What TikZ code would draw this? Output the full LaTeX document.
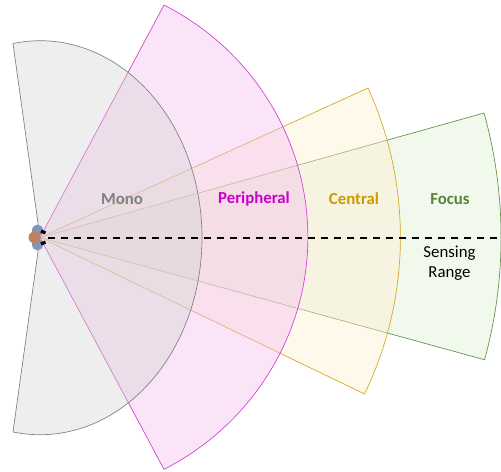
\documentclass[tikz,border=0pt]{standalone}
\usepackage{fontspec}
\setmainfont{Carlito}
\definecolor{monoc}{RGB}{128,128,128}
\definecolor{monof}{RGB}{212,212,212}
\definecolor{perc}{RGB}{204,0,204}
\definecolor{perl}{RGB}{212,60,212}
\definecolor{perf}{RGB}{243,188,238}
\definecolor{cenc}{RGB}{214,165,30}
\definecolor{cenf}{RGB}{255,240,205}
\definecolor{focc}{RGB}{100,145,70}
\definecolor{focf}{RGB}{220,237,208}
\definecolor{labc}{RGB}{204,153,0}
\definecolor{skin}{RGB}{190,130,95}
\definecolor{shoulder}{RGB}{130,150,185}
\tikzset{px/.style={x=0.75pt,y=-0.75pt},
 sector/.style={line width=0.5pt,line join=miter,fill opacity=0.4},
 lab/.style={font=\bfseries\fontsize{12.6}{15}\selectfont,inner sep=0pt}}
\begin{document}
\begin{tikzpicture}[px]
\useasboundingbox (0,0) rectangle (501,472);
\coordinate (O) at (40,237.5);
% focus
\draw[sector,draw=focc,fill=focf] (O) -- (484,113) arc[start angle=-15.65,end angle=15.4,radius=461] -- cycle;
% central
\draw[sector,draw=cenc,fill=cenf] (O) -- (368,88) arc[start angle=-24.5,end angle=25.8,radius=360] -- cycle;
% peripheral
\draw[sector,draw=perl,fill=perf] (O) -- (164,5) arc[start angle=-62.4,end angle=62.4,x radius=268,y radius=262] -- cycle;
% mono
\draw[sector,draw=monoc,fill=monof] (O) -- (13,43.5) arc[start angle=-99.6,end angle=99.6,x radius=162,y radius=197] -- cycle;
% head
\fill[shoulder] (37.5,230.5) ellipse[x radius=5.5,y radius=6];
\fill[shoulder] (37.5,244.5) ellipse[x radius=5.5,y radius=6];
\draw[line width=2.4pt] (41,231) -- (45.5,233);
\draw[line width=2.4pt] (41,244) -- (45.5,242);
\fill[skin] (34.3,237.4) circle[radius=5.8];
\draw[line width=1.5pt,dash pattern=on 5.4pt off 4.35pt] (48,237.5) -- (501,237.5);
\node[lab,text=monoc] (m) at (122,199) {Mono};
\node[lab,text=perc] (p) at (254,199) {Peripheral};
\node[lab,text=labc] (c) at (354,199) {Central};
\node[lab,text=focc!90!black] (f) at (450,199) {Focus};
\node[font=\fontsize{12.6}{15}\selectfont,align=center,inner sep=0pt] (s) at (449.5,263.5) {Sensing\\Range};
\end{tikzpicture}
\end{document}
